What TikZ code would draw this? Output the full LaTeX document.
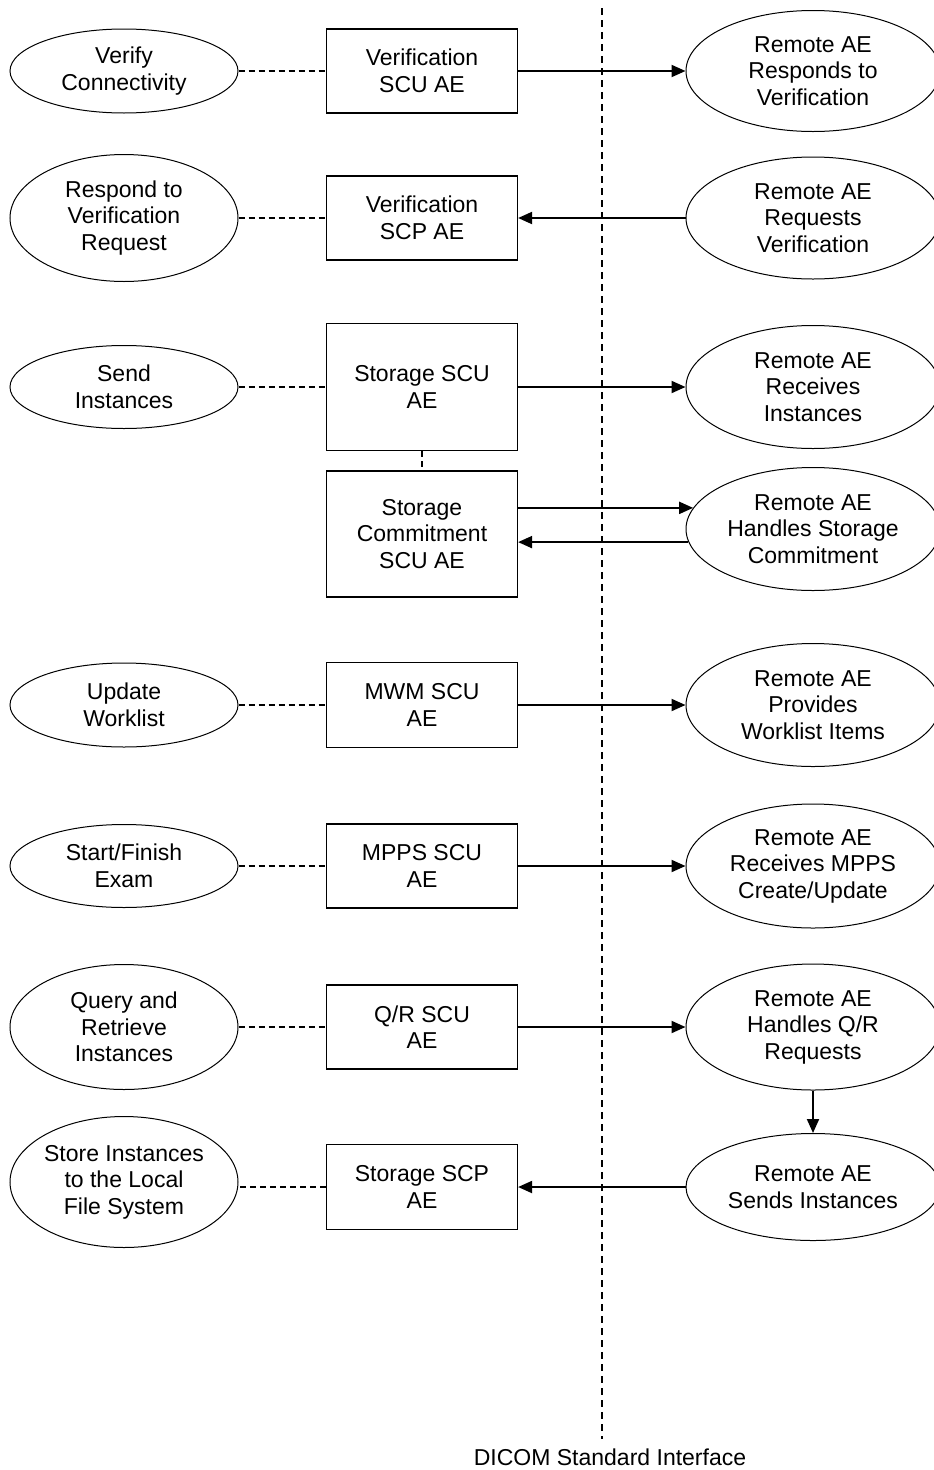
\documentclass[tikz,border=0pt]{standalone}
\usepackage{fontspec}
\setmainfont{Liberation Sans}
\usetikzlibrary{shapes.geometric,arrows.meta}

\begin{document}
\begin{tikzpicture}[x=1pt,y=-1pt,
  every node/.style={font=\fontsize{23}{26.5}\selectfont, align=center},
  usecase/.style={draw, ellipse, line width=1pt, minimum width=228pt, inner sep=0pt},
  aebox/.style={draw, rectangle, line width=1.2pt, minimum width=191pt, inner sep=0pt},
  remote/.style={draw, ellipse, line width=1pt, minimum width=254pt, inner sep=0pt},
  link/.style={line width=1.3pt, dash pattern=on 6pt off 4pt},
  msg/.style={line width=2pt, -{Triangle[length=14pt,width=12pt]}}]
	\useasboundingbox (0,0) rectangle (934,1470);

	\coordinate (ifT) at (602,8);
	\coordinate (ifB) at (602,1439);
	\draw[line width=1.3pt, dash pattern=on 7pt off 5pt] (ifT) -- (ifB);
	\node (dicom) at (610,1457) {DICOM Standard Interface};

            \node[usecase, minimum height=84pt] (u1) at (124,71) {Verify\\Connectivity};
            \node[aebox, minimum height=84pt] (a1) at (422,71) {Verification\\SCU AE};
            \node[remote, minimum height=121pt] (r1) at (813,71) {Remote AE\\Responds to\\Verification};

            \node[usecase, minimum height=127pt] (u2) at (124,218) {Respond to\\Verification\\Request};
            \node[aebox, minimum height=84pt] (a2) at (422,218) {Verification\\SCP AE};
            \node[remote, minimum height=122pt] (r2) at (813,218) {Remote AE\\Requests\\Verification};

            \node[usecase, minimum height=83pt] (u3) at (124,387) {Send\\Instances};
            \node[aebox, minimum height=127pt] (a3) at (422,387) {Storage SCU\\AE};
            \node[remote, minimum height=123pt] (r3) at (813,387) {Remote AE\\Receives\\Instances};

            \node[aebox, minimum height=126pt] (a4) at (422,534) {Storage\\Commitment\\SCU AE};
            \node[remote, minimum height=123pt] (r4) at (813,529) {Remote AE\\Handles Storage\\Commitment};

            \node[usecase, minimum height=84pt] (u5) at (124,705) {Update\\Worklist};
            \node[aebox, minimum height=85pt] (a5) at (422,705) {MWM SCU\\AE};
            \node[remote, minimum height=123pt] (r5) at (813,705) {Remote AE\\Provides\\Worklist Items};

            \node[usecase, minimum height=83pt] (u6) at (124,866) {Start/Finish\\Exam};
            \node[aebox, minimum height=84pt] (a6) at (422,866) {MPPS SCU\\AE};
            \node[remote, minimum height=124pt] (r6) at (813,866) {Remote AE\\Receives MPPS\\Create/Update};

            \node[usecase, minimum height=125pt] (u7) at (124,1027) {Query and\\Retrieve\\Instances};
            \node[aebox, minimum height=84pt] (a7) at (422,1027) {Q/R SCU\\AE};
            \node[remote, minimum height=126pt] (r7) at (813,1027) {Remote AE\\Handles Q/R\\Requests};

            \node[usecase, minimum height=131pt] (u8) at (124,1182) {Store Instances\\to the Local\\File System};
            \node[aebox, minimum height=85pt] (a8) at (422,1187) {Storage SCP\\AE};
            \node[remote, minimum height=107pt] (r8) at (813,1187) {Remote AE\\Sends Instances};

            \foreach \i in {1,2,3,5,6,7}{
              \draw[link] (u\i) -- (a\i);
            }
            \draw[link] (a8.west) -- (a8.west -| u8.east);
            \draw[link] (a3) -- (a4);

            \foreach \i in {1,3,5,6,7}{
              \draw[msg] (a\i) -- (r\i);
            }
            \foreach \i in {2,8}{
              \draw[msg] (r\i) -- (a\i);
            }
            \draw[msg] (a4.east |- r4.170) -- (r4.170);
            \draw[msg] (r4.186) -- (a4.east |- r4.186);
            \draw[msg] (r7.south) -- (r8.north);
\end{tikzpicture}
\end{document}
